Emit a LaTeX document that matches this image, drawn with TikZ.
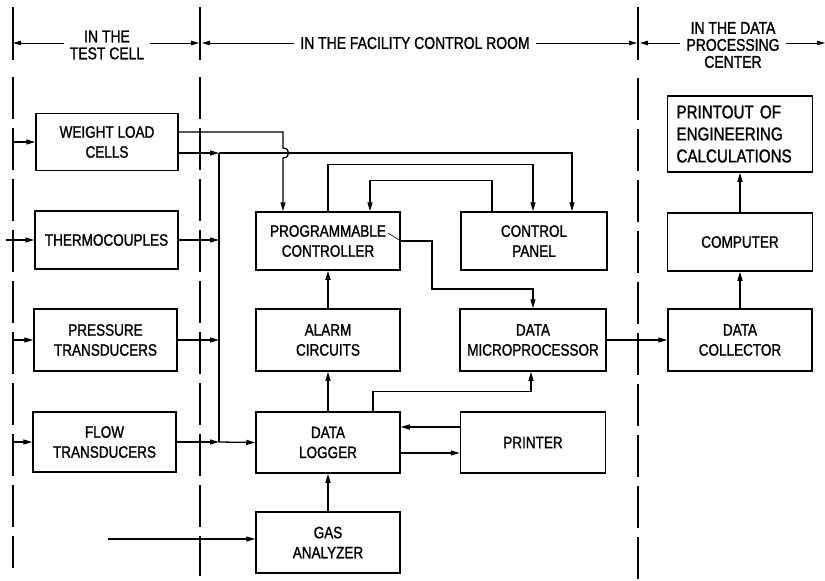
\documentclass[tikz,border=0pt]{standalone}
\usepackage{fontspec}
\newfontfamily\lbl{Liberation Sans}[FakeStretch=0.82,FakeBold=1.3]
\usetikzlibrary{arrows.meta}
\begin{document}
\begin{tikzpicture}[x=1pt,y=-1pt,
 box/.style={draw, line width=1.5pt, align=center, inner sep=0pt, font=\lbl\fontsize{16.5}{20}\selectfont},
 conn/.style={line width=1.3pt},
 arr/.style={conn, -{Triangle[length=9pt,width=5pt]}},
 hdr/.style={align=center, font=\lbl\fontsize{17}{17}\selectfont, inner xsep=6pt, inner ysep=0pt},
 harr/.style={line width=0.9pt, -{Triangle[length=8pt,width=4.5pt]}},
 divider/.style={line width=1.4pt},
 dashdiv/.style={line width=1.4pt, dash pattern=on 42pt off 9pt}]
\useasboundingbox (0,0) rectangle (825,581);

% dividers
\draw[divider] (13,7) -- (13,60);
\draw[divider] (200,7) -- (200,60);
\draw[divider] (638,7) -- (638,60);
\draw[dashdiv] (13,77) -- (13,568);
\draw[dashdiv] (200,77) -- (200,576);
\draw[dashdiv] (638,78) -- (638,580);

% headers
\coordinate (hL) at (13,43);
\coordinate (hM1) at (199,43);
\coordinate (hM2) at (202,43);
\coordinate (hR1) at (637,43);
\coordinate (hR2) at (640,43);
\coordinate (hE) at (825,43);
\node[hdr] (h1) at (107,45) {IN THE\\TEST CELL};
\node[hdr] (h2) at (415,43) {IN THE FACILITY CONTROL ROOM};
\node[hdr] (h3) at (733,45) {IN THE DATA\\PROCESSING\\CENTER};
\draw[harr] (hL -| h1.west) -- (hL);
\draw[harr] (hL -| h1.east) -- (hM1);
\draw[harr] (hL -| h2.west) -- (hM2);
\draw[harr] (hL -| h2.east) -- (hR1);
\draw[harr] (hL -| h3.west) -- (hR2);
\draw[harr] (hL -| h3.east) -- (hE);

% boxes
\node[box, minimum width=142pt, minimum height=57pt] (wlc) at (107,142) {WEIGHT LOAD\\CELLS};
\node[box, minimum width=143pt, minimum height=58pt] (thermo) at (106.5,240) {THERMOCOUPLES};
\node[box, minimum width=143pt, minimum height=62pt] (press) at (105.5,340) {PRESSURE\\TRANSDUCERS};
\node[box, minimum width=143pt, minimum height=60pt] (flow) at (104.5,442) {FLOW\\TRANSDUCERS};
\node[box, minimum width=144pt, minimum height=58pt] (prog) at (328,241) {PROGRAMMABLE\\CONTROLLER};
\node[box, minimum width=146pt, minimum height=58pt] (cpanel) at (534,241) {CONTROL\\PANEL};
\node[box, minimum width=144pt, minimum height=62pt] (alarm) at (328,340) {ALARM\\CIRCUITS};
\node[box, minimum width=144pt, minimum height=61pt] (logger) at (328,442.5) {DATA\\LOGGER};
\node[box, minimum width=144pt, minimum height=61pt] (gas) at (328,542.5) {GAS\\ANALYZER};
\node[box, minimum width=146pt, minimum height=62pt] (micro) at (533,340) {DATA\\MICROPROCESSOR};
\node[box, minimum width=145pt, minimum height=61pt] (printer) at (533,442.5) {PRINTER};
\node[box, minimum width=144pt, minimum height=62pt] (collector) at (740,340) {DATA\\COLLECTOR};
\node[box, minimum width=145pt, minimum height=58pt] (computer) at (740,242) {COMPUTER};
\node[box, minimum height=76pt, text width=127pt, inner xsep=9pt, align=left,
      font=\lbl\fontsize{18.5}{22}\selectfont] (printout) at (740,134) {PRINTOUT OF\\ENGINEERING\\CALCULATIONS};

% inputs
\coordinate (in1) at (13,142);
\coordinate (in2) at (6,240);
\coordinate (in3) at (12,340);
\coordinate (in4) at (12,442);
\coordinate (in5) at (108,539);
\draw[arr] (in1) -- (wlc.west);
\draw[arr] (in2) -- (thermo.west);
\draw[arr] (in3) -- (press.west);
\draw[arr] (in4) -- (flow.west);
\draw[arr] (in5) -- (in5 -| gas.west);

% bus
\coordinate (busTop) at (219,153);
\coordinate (busBot) at (219,442);
\draw[conn] (busTop) -- (busBot);
\draw[arr] ([yshift=-11pt]wlc.east) -- (busTop);
\draw[arr] (thermo.east) -- (thermo.east -| busTop);
\draw[arr] (press.east) -- (press.east -| busTop);
\draw[arr] (flow.east) -- (busBot);
\draw[arr] (busBot) -- (logger.west);
\draw[arr] (busTop) -- (572,153) -- ([xshift=38pt]cpanel.north);

% weight load cells to controller (with hop)
\draw[arr] ([yshift=10pt]wlc.east) -- (283,132) -- (283,148)
  .. controls (290.5,148) and (290.5,158) .. (283,158) -- ([xshift=-45pt]prog.north);

% controller <-> control panel
\draw[arr] (prog.north) -- ++(0,-47) -| ([xshift=-1pt]cpanel.north);
\draw[arr] ([xshift=-42pt]cpanel.north) -- ++(0,-31) -| ([xshift=42pt]prog.north);

% controller to microprocessor
\draw[line width=0.6pt] (388,233) -- (prog.east);
\draw[arr] (prog.east) -- (432,241) -- (432,289) -| (micro.north);

% vertical chain
\draw[arr] (alarm.north) -- (prog.south);
\draw[arr] (logger.north) -- (alarm.south);
\draw[arr] (gas.north) -- (logger.south);

% logger to microprocessor
\draw[arr] ([xshift=45pt]logger.north) -- ++(0,-20) -| ([xshift=-2pt]micro.south);

% logger <-> printer
\draw[arr] ([yshift=15.5pt]printer.west) -- ([yshift=15.5pt]logger.east);
\draw[arr] ([yshift=-10.5pt]logger.east) -- ([yshift=-10.5pt]printer.west);

% data processing
\draw[arr] (micro.east) -- (collector.west);
\draw[arr] (collector.north) -- (computer.south);
\draw[arr] (computer.north) -- (printout.south);
\end{tikzpicture}
\end{document}
